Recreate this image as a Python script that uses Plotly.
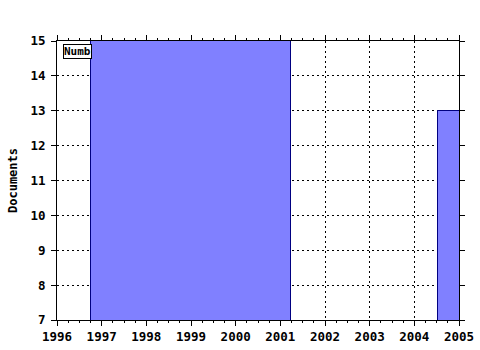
import plotly.graph_objects as go

# Data
bar_centers = [1999.0, 2005.0]
bar_widths = [4.48, 0.94]
bar_values = [15, 13]
series_name = "Number of documents"
x_ticks = list(range(1996, 2006))
y_ticks = list(range(7, 16))

FONT = "DejaVu Sans Mono"

fig = go.Figure()
fig.add_trace(go.Bar(
    x=bar_centers, y=bar_values, width=bar_widths,
    base=0, name=series_name,
    marker=dict(color="#8080ff", line=dict(color="#000080", width=1)),
    showlegend=False,
))

axis_common = dict(
    showline=True, linecolor="black", linewidth=1, mirror="allticks",
    ticks="outside", ticklen=5, tickcolor="black",
    showgrid=True, gridcolor="black", griddash="2px,3px", gridwidth=1,
    zeroline=False, automargin=False,
    tickfont=dict(family=FONT, size=12.5, color="black", weight="bold"),
)

fig.update_layout(
    width=480, height=350,
    margin=dict(l=57, r=21, t=41, b=30),
    paper_bgcolor="white", plot_bgcolor="white",
    bargap=0,
    xaxis=dict(range=[1996, 2005], tickvals=x_ticks, ticktext=[str(v) for v in x_ticks],
               minor=dict(ticks="outside", ticklen=2, tickcolor="black", showgrid=False, dtick=0.25),
               **axis_common),
    yaxis=dict(range=[7, 15], tickvals=y_ticks, ticktext=[str(v) for v in y_ticks],
               ticklabelstandoff=3,
               title=dict(text="Documents", font=dict(family=FONT, size=12, color="black", weight="bold"),
                          standoff=10),
               **axis_common),
)

fig.add_annotation(
    xref="paper", yref="paper", x=(63 - 57) / 402, y=(320 - 44) / 279,
    xanchor="left", yanchor="top", showarrow=False,
    text="Numb", font=dict(family=FONT, size=11, color="black", weight="bold"),
    bordercolor="black", borderwidth=1, bgcolor="white", borderpad=0,
)

fig.write_html("out.html")
